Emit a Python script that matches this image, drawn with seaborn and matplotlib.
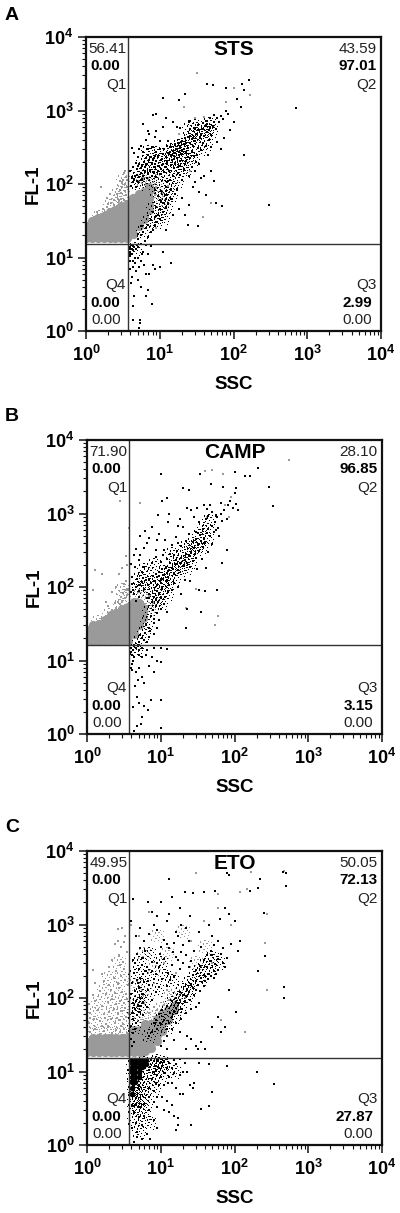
import matplotlib
matplotlib.use("Agg")
import matplotlib.pyplot as plt
from matplotlib.path import Path
import seaborn as sns

sns.set_style("ticks")
plt.rcParams['font.family'] = ['Liberation Sans', 'DejaVu Sans']
plt.rcParams['mathtext.fontset'] = 'custom'
plt.rcParams['mathtext.bf'] = 'Liberation Sans:bold'
plt.rcParams['mathtext.rm'] = 'Liberation Sans:bold'

GRAY = '#9a9a9a'
INK = '#111111'

# panel letters, titles, gates
panel_letters = ['A', 'B', 'C']
panel_titles = ['STS', 'CAMP', 'ETO']
gate_x = [3.7, 3.7, 3.7]
gate_y = [15.4, 16.0, 15.4]
# Q1 top, Q1 mid, Q2 top, Q2 mid, Q4 mid, Q4 low, Q3 mid, Q3 low
a_stats = ['56.41', '0.00', '43.59', '97.01', '0.00', '0.00', '2.99', '0.00']
b_stats = ['71.90', '0.00', '28.10', '96.85', '0.00', '0.00', '3.15', '0.00']
c_stats = ['49.95', '0.00', '50.05', '72.13', '0.00', '0.00', '27.87', '0.00']
tick_values = [1, 10, 100, 1000, 10000]
tick_labels = [r'$\mathbf{10^{0}}$', r'$\mathbf{10^{1}}$', r'$\mathbf{10^{2}}$',
               r'$\mathbf{10^{3}}$', r'$\mathbf{10^{4}}$']

# solid part of the grey population
a_core = [(1,18.5),(1,22),(1,27),(1.2,18.5),(1.2,22),(1.2,27),(1.2,31),(1.45,18.5),(1.45,22),(1.45,26),(1.45,31),(1.45,34),
          (1.75,18.5),(1.75,22),(1.75,26),(1.75,31),(1.75,37),(2.1,18.5),(2.1,22),(2.1,26),(2.1,31),(2.1,37),(2.1,41),
          (2.5,18.5),(2.5,22),(2.5,26),(2.5,31),(2.5,37),(2.5,44),(3,18.5),(3,22),(3,26),(3,31),(3,37),(3,44),(3,50),
          (3.6,18.5),(3.6,22),(3.6,26),(3.6,31),(3.6,37),(3.6,45),(3.6,54),(4.4,21),(4.4,26),(4.4,31),(4.4,37),(4.4,45),
          (4.4,54),(4.4,65),(5.2,27),(5.2,31),(5.2,37),(5.2,45),(5.2,54),(5.2,65),(5.2,74),(6.2,33),(6.2,38),(6.2,45),
          (6.2,54),(6.2,65),(6.2,78),(7.2,44),(7.2,52),(7.2,64),(7.2,80),(7.2,92)]
b_core = [(1,18.5),(1,22),(1,26),(1.2,18.5),(1.2,22),(1.2,26),(1.2,30),(1.45,18.5),(1.45,22),(1.45,26),(1.45,31),
          (1.75,18.5),(1.75,22),(1.75,26),(1.75,31),(1.75,36),(2.1,18.5),(2.1,22),(2.1,26),(2.1,31),(2.1,37),(2.1,41),
          (2.5,18.5),(2.5,22),(2.5,26),(2.5,31),(2.5,37),(2.5,44),(3,18.5),(3,22),(3,26),(3,31),(3,37),(3,44),(3,50),
          (3.6,18.5),(3.6,22),(3.6,26),(3.6,31),(3.6,37),(3.6,45),(3.6,54),(4.3,23),(4.3,27),(4.3,32),(4.3,38),(4.3,45),
          (4.3,54),(4.3,62),(5,30),(5,36),(5,44),(5,52),(5,60),(5.8,38),(5.8,45),(5.8,52)]
c_core = [(1,18.5),(1,21),(1,25),(1.2,18.5),(1.2,21),(1.2,25),(1.2,29),(1.45,18.5),(1.45,21),(1.45,25),(1.45,29),(1.75,18.5),(1.75,21),
          (1.75,25),(1.75,29),(2.1,18.5),(2.1,21),(2.1,25),(2.1,29),(2.5,18.5),(2.5,21),(2.5,25),(2.5,29),(3,18.5),(3,21),(3,25),(3,29),
          (3.6,18.5),(3.6,21),(3.6,25),(3.6,29),(4.4,18.5),(4.4,22),(4.4,26),(4.4,31),(4.4,37),(5.2,18.5),(5.2,22),(5.2,26),
          (5.2,31),(5.2,37),(6.2,19),(6.2,23),(6.2,27),(6.2,32),(6.2,38),(6.2,44),(7.4,21),(7.4,26),(7.4,31),(7.4,37),
          (7.4,44),(8.8,26),(8.8,31),(8.8,37),(8.8,44),(8.8,52),(10.5,36),(10.5,44),(10.5,52),(10.5,60),(12.5,50),(12.5,58),
          (12.5,68),(15,68),(15,78)]

# loose grey dots at the fringes
a_gray = [(1.3,36),(1.5,38),(1.8,42),(1.9,48),(2.2,46),(2.4,52),(2.6,50),(2.8,58),(3,62),(3.3,60),(3.5,70),(2.6,72),
          (2.9,84),(3.1,92),(3.4,100),(3.2,115),(3.5,125),(3.3,140),(2.9,110),(2.7,62),(2.2,56),(1.6,92),(1.9,64),
          (2.1,72),(1.2,35),(1.4,41),(3.4,80),(3,76),(3.6,90),(2.4,60),(1.7,46),(2,53),(3.6,112),(3.4,150),(3.1,105),
          (5,110),(6,125),(7,118),(8,105),(9,90),(11,75),(12,62),(13,95),(6.5,100),(8.5,70),(32,3200),(40,820),(80,1300),
          (100,2000),(170,1650),(30,800),(21,1100),(18,480),(26,150),(50,55),(38,36),(9,25)]
b_gray = [(1.2,32),(1.4,35),(1.6,38),(1.8,40),(2,44),(2.2,48),(2.5,52),(2.8,58),(3,64),(3.3,70),(3.5,78),(2.6,62),
          (3.1,82),(3.4,90),(3.6,95),(2.2,85),(2.5,100),(3,180),(3.4,260),(2.7,150),(1.3,170),(1.6,150),(1.2,90),(1.9,55),
          (2.4,60),(3.4,120),(3.2,110),(2.9,72),(3.7,640),(2.8,1500),(5.2,1400),(1.8,62),(3.5,200),(5,85),(6,90),(7,75),(8,60),
          (60,40),(55,30),(40,3800),(50,3900),(70,3400),(90,1700),(75,1300),(85,900),(42,900),(540,5400),(22,52),(30,95)]
c_gray = [(1.1,34),(1.3,38),(1.5,32),(1.7,36),(1.9,40),(2.2,33),(2.5,37),(2.8,35),(3.2,38),(3.5,33),(1.05,46),(1.25,52),
          (1.5,48),(1.8,44),(2.1,52),(2.4,46),(2.7,50),(3.1,44),(3.4,55),(1.1,62),(1.4,68),(1.7,60),(2,64),(2.3,70),
          (2.6,62),(3,66),(3.3,72),(3.6,62),(1.05,82),(1.3,90),(1.6,78),(1.9,88),(2.2,96),(2.5,84),(2.8,92),(3.2,86),(3.5,98),
          (1.2,110),(1.5,125),(1.8,115),(2.1,130),(2.4,118),(2.7,135),(3,122),(3.4,112),(1.3,160),(1.7,170),(2,150),(2.3,190),
          (2.6,160),(2.9,200),(3.3,175),(3.6,150),(1.2,240),(1.6,210),(2,260),(2.5,230),(2.8,280),(3.2,250),(2.2,330),(2.7,380),
          (3.1,310),(3.5,420),(2.4,550),(2.6,600),(2.9,500),(3.2,580),(3,900),(2.6,880),(3.3,700),(1.2,30),(1.6,41),(2,31),(2.4,30),
          (2.9,42),(3.3,31),(5,70),(6,85),(7,62),(8,75),(9,68),(11,80),(13,95),(16,92),(18,110),(21,100),(5.5,130),(8,160),
          (12,130),(7,240),(11,300),(16,220),(26,600),(38,1100),(60,1700),(90,1000),(120,2800),(140,35),(65,50),(280,130),
          (260,560),(280,1400),(150,3000),(30,5000),(60,2600),(170,5200),(470,5300),(50,300),(4,1000),(5,700),(7,1500)]

# centres of the crowded grey areas, drawn with the stipple marker
a_gray_dense = [(1.5,36),(2.1,50),(2.8,60),(3.2,80),(3.2,110),(2.6,70),(7,100),(9,70),(11,55),(9,110),(6,110)]
b_gray_dense = [(1.4,33),(2,42),(2.8,55),(3.2,75),(3,90),(5,75),(6.5,65),(7,50)]
c_gray_dense = [(1.3,33),(2,33),(3,33),(1.3,45),(2,45),(3,45),(1.3,60),(2.1,60),(3,60),(1.4,85),(2.2,85),(3.1,85),(1.7,125),
                (2.6,125),(2,190),(3,190),(2.7,300),(6,55),(8,60),(10,70),(13,100),(5,45),(16,110),(20,130),(5,90),(7,120),
                (4.5,150),(8,250),(6,400),(12,400),(9,700),(20,800),(30,300),(40,500)]

a_black = [(4,13),(4.2,11),(3.9,12),(4.5,14),(4.1,15),(4.4,12.5),(5,14),(5.5,15.5),(6.5,15),(7.5,14.5),(4.3,9),(4.6,8.5),
           (4,7),(4.2,5.5),(4.8,6.5),(5.5,9),(6,12),(7,11),(8,8),(8.5,7),(10,7.5),(14,8.5),(11,12),(6.5,6),(5,5),(5.5,4),
           (6.5,3),(7,3.6),(4.3,2.2),(7.8,2.3),(4.4,1.4),(5.4,1.4),(5.4,1.3),(5.2,1.1),(4.5,3),(4.1,4.5),(5,10),(4.6,10),
           (4,10.5),(5.8,11),(4.2,13),(4.7,13),(3.9,14),(4.3,14.5),(3.9,11),(4,9),(4.4,7.5),(5.2,7.5),(6.2,8),(7.2,6),
           (5,18),(5.5,20),(6,22),(5,21),(6.3,17),(7,19),(7.5,22),(8,24),(6.5,25),(5.6,27),(7,28),(8.5,27),(9,30),(7.5,32),
           (10,33),(9.5,38),(8.5,36),(11,41),(10,45),(12,48),(9,48),(8,42),(13,53),(11,56),(10,60),(14,62),(9.5,68),(12,70),
           (16,72),(18,46),(15,38),(12,24),(24,28),(33,27),(22,38),(25,52),(20,65),(17,85),(14,82),(12,90),(10.5,80),(8.5,84),
           (4.1,95),(4.3,105),(4.5,115),(4.2,120),(4.6,130),(5,105),(5.2,125),(5.5,140),(4.8,92),(5.8,112),(6,130),(6.3,150),
           (6.7,120),(7,140),(7.4,155),(7.8,130),(8.2,145),(8.6,170),(9,125),(9.4,150),(9.8,175),(10,135),(10.5,160),(11,190),
           (11.5,145),(12,170),(12.5,200),(13,110),(13.5,150),(14,180),(14.5,210),(15,130),(15.5,165),(16,195),(17,225),(17.5,140),
           (18,175),(19,205),(20,115),(21,155),(22,190),(24,230),(25,130),(27,170),(4,150),(4.4,170),(4.9,160),(5.3,185),(5.7,175),
           (6.1,200),(6.6,180),(7.2,210),(7.8,190),(8.4,225),(9,205),(9.6,240),(10.4,215),(11,255),(12,235),(13,265),(14,245),(15,285),
           (16,260),(17,300),(18,275),(19,325),(20,290),(22,345),(23,265),(24,310),(26,365),(27,280),(28,330),(30,390),(32,245),(33,310),
           (35,420),(36,290),(38,360),(40,450),(42,330),(44,510),(46,400),(48,590),(50,470),(28,420),(31,480),(33,540),(36,470),(38,560),
           (41,610),(44,660),(47,540),(52,620),(55,700),(58,560),(60,780),(64,690),(68,850),(72,760),(78,1000),(85,900),(55,880),(48,790),
           (42,720),(38,680),(33,640),(30,560),(26,450),(22,420),(20,380),(18,360),(16,340),(14,320),(13,390),(10,300),(9,270),(8,320),
           (7,250),(6,270),(5,230),(5.5,330),(6.5,400),(7,530),(8,860),(9,900),(6,650),(7.2,480),(11,1500),(18,1400),(22,1700),(44,2300),
           (52,2200),(80,2000),(110,1450),(140,1900),(160,2600),(130,2300),(125,1100),(100,700),(90,550),(75,420),(68,300),(60,370),(50,320),
           (45,250),(50,150),(55,110),(40,130),(30,105),(28,90),(34,78),(42,70),(36,120),(710,1070),(300,52),(140,250),(70,50),(58,55),
           (12,800),(15,700),(11,600),(9,520),(25,720),(17,600),(4.5,260),(5.2,300),(4.2,310),(8.5,430),(19,570),(4.8,195),(6.9,300),(10,380),
           (11.5,300),(12.5,325),(15.5,240),(18,245),(20,255),(21,300),(23,205),(26,225),(29,240),(31,200),(34,190),(30,150)]
b_black = [(4,15),(4.2,14),(4.4,16),(3.9,13),(4.1,12),(4.6,15),(5,14),(5.5,15),(6.5,14),(8,15),(10,15),(12,14.5),(4.2,10),(4.1,9),
           (4.3,11),(5,12),(5.6,11),(6.4,12),(7.5,11),(9,10),(10,9.5),(7,8.5),(8,7),(5,8),(4.6,7),(4.9,5.5),(5.6,6),(6,5),(4.5,4.5),(4.7,3.2),
           (7.3,2.9),(10,2.9),(5,2.6),(6.8,2.1),(4.2,2.3),(6,2.4),(5.5,1.7),(4.7,1.3),(4.3,1.1),(10,1.2),(5.4,1.35),(4,8),(4.1,7.5),
           (5,18),(5.5,20),(6,19),(6.5,18),(7,21),(5.2,22),(6.2,24),(7.2,25),(8,23),(7,28),(6.3,31),(8,32),(9,28),(8.2,37),(9.5,36),(7.4,40),
           (9,44),(7.8,48),(10,50),(8.5,55),(11,58),(9.2,62),(7.6,62),(10,70),(11.5,72),(8.2,72),(12,45),(12.5,85),(9.5,84),(14,90),(7,80),
           (10.5,100),(13,105),(12,120),(15,115),(17,100),(19,80),(23,50),(22,28),(35,45),(58,90),(40,88),(33,92),(25,120),(21,125),
           (4,85),(4.2,92),(4.4,80),(4.6,100),(4.1,110),(5,88),(5.3,105),(5.6,118),(6,95),(6.3,125),(6.7,108),(7,130),(7.4,115),(7.8,140),
           (8.2,122),(8.6,150),(9,135),(9.5,160),(10,125),(10.5,175),(11,145),(11.6,190),(12,155),(12.5,135),(13,170),(13.5,210),(14,180),(15,150),
           (15.5,205),(16,235),(17,170),(18,215),(19,250),(20,195),(21,230),(22,280),(23,210),(24,260),(26,300),(27,225),(28,340),(29,280),
           (30,250),(32,380),(33,310),(35,420),(37,350),(38,470),(40,400),(42,540),(30,450),(34,510),(44,620),(46,500),(50,680),(52,560),
           (55,770),(58,900),(60,640),(65,1000),(68,780),(72,1100),(78,850),(82,1300),(88,1500),(95,1200),(105,1350),(110,1100),(100,1900),
           (105,2200),(65,1400),(50,1050),(47,1300),(38,1300),(31,1200),(42,1150),(56,960),(23,1200),(26,1100),(28,900),(20,650),(18,850),
           (17,680),(16,480),(13,1000),(12,1600),(10.5,1500),(10,3400),(20,2200),(24,2100),(34,3500),(48,2500),(70,2300),(80,320),(68,210),
           (50,380),(44,300),(36,240),(41,180),(31,175),(25,190),(4.8,130),(5.5,160),(6,190),(5,230),(4.4,270),(4.6,330),(5.3,270),
           (6,340),(6.5,400),(5.2,490),(6.2,570),(7,470),(8.5,320),(9,440),(7.5,650),(9.3,950),(9.5,520),(11,320),(11.5,440),(12.5,770),
           (14,370),(15,270),(16.5,310),(17,400),(19,360),(22,420),(24,520),(27,410),(7.7,210),(8.5,255),(10,220),(10.8,270),(12,240),(13.2,285),
           (4.1,135),(4.5,185),(3.9,205),(8.8,105),(4.6,65),(5,72),(6.5,70),(140,3200),(160,3200),(100,3700),(210,4200),(290,2300),(330,1250),
           (30,560),(37,620),(33,760),(41,830),(44,920),(56,600),(62,490)]
c_black = [(3.9,14),(4.3,14.5),(4.7,14),(5.2,14.5),(5.7,14),(6.2,14.5),(6.8,14),(7.4,14.5),(8,14),(9,14.5),(10,13.5),(11,14),(13,13),
           (8.5,12),(9.5,11),(10.5,12),(12,11),(14,11),(8,10),(9,9),(10,8.5),(11,9.5),(13,8.5),(15,9.5),(18,9),(20,10),(16,12.5),(21,13),
           (23,10),(7.5,8),(8.5,7),(9.5,6.5),(11,6.5),(12.5,7),(14,7),(16,6),(18,5),(20,5),(25,6.5),(27,6),(28,7),(7,6),(8,5.5),(9,4.5),
           (10.5,4.5),(12,4),(14,3.5),(7,4.5),(8,3.8),(9,3.3),(11,3),(13,2.8),(15,2.5),(17,2.3),(17,1.9),(16,1.6),(26,1.9),(35,3.1),(45,3.4),
           (50,5.2),(33,13),(45,12.5),(80,12),(200,10),(340,6.8),(7,3),(6,2.5),(8,2.2),(9,1.7),(5.5,1.9),(6.5,1.4),(7.2,1.2),(4.3,1.1),(4.7,1.3),
           (4.1,1.7),(4.6,2),(5,2.4),(4.4,2.8),(5.2,3.3),(6,3.6),(4.2,3.4),(4.8,1.5),(5.6,1.2),(9.2,14),(10.2,15),(12,15),(15,14.5),(18,15),
           (4.1,22),(4.4,25),(3.9,28),(4.2,33),(4.5,38),(4,42),(4.6,46),(4.2,52),(4.8,58),(4.1,62),(4.5,70),(5,78),(4.2,85),(4.6,92),(5.2,100),
           (4,112),(4.5,125),(5,140),(5.5,115),(4.1,160),(4.7,175),(5.3,190),(6,165),(4.4,220),(5,250),(5.6,280),(6.3,230),(4.2,330),(4.8,400),
           (5.5,350),(6.2,440),(4,1100),(4.6,700),(5.2,900),(6,600),(7,750),(8,1000),(7.5,1500),(4.2,2200),(6.8,2000),(9,1300),(10,2000),(13,4200),
           (13,1400),(14,2400),(12,1100),(16,800),(18,1700),(21,2800),(19,1000),(9,850),(10,500),(11,620),(13,480),(15,560),(17,700),(19,420),
           (22,900),(25,1300),(27,2700),(33,800),(38,2800),(45,1000),(55,2900),(50,700),(64,1200),(75,1700),(85,1400),(100,1100),(120,600),
           (110,440),(90,550),(70,480),(60,600),(52,520),(48,430),(42,380),(35,500),(28,430),(24,600),(20,520),(6.5,260),(7.5,310),(8.5,210),
           (9.5,260),(11,340),(12.5,220),(14,280),(16,360),(18,250),(20,300),(22,380),(24,260),(26,320),(30,240),(34,270),(38,330),(42,260),
           (46,320),(50,380),(55,290),(60,340),(65,400),(70,300),(75,260),(80,350),(60,240),(52,230),(45,210),(40,200),(35,190),(30,170),
           (26,150),(23,130),(20,110),(18,120),(16,100),(14,90),(12,78),(10.5,68),(9.5,60),(8.5,50),(8,45),(7.5,35),(7,30),(9,38),(10,44),(11,50),
           (12,38),(13,46),(14,55),(15,64),(16,72),(17,85),(18,95),(19,70),(21,88),(22,105),(24,120),(25,95),(27,135),(28,110),(30,130),(32,150),
           (34,125),(36,165),(38,145),(40,170),(44,180),(48,200),(52,190),(56,210),(33,85),(30,75),(26,70),(22,62),(19,52),(16,45),(14,38),
           (12,30),(11,26),(10,22),(12,20),(15,27),(18,35),(23,30),(26,28),(30,22),(35,25),(22,20),(32,20),(40,20),(60,55),(50,40),(75,40),(65,35),
           (105,65),(85,130),(260,370),(470,100),(470,140),(210,230),(250,1450),(210,3100),(220,4200),(500,3300),(500,5000),(450,5200),(160,2900),
           (85,4700),(80,5000),(8,180),(7,150),(5.8,58),(6.5,75),(7.5,95),(8.5,120),(9.5,140),(10.5,180),(12,145),(13.5,175),(15,200),(5.2,65),
           (5.8,88),(6.8,130),(4.9,160),(5.7,210),(6.7,170),(7.7,230),(8.8,300),(9.8,400),(12,550),(14.5,420),(17,330),(4.5,300),(5.2,480)]

# centres of the crowded black areas, drawn with the stipple marker
a_dense = [(5,120),(6,150),(7,110),(8.5,130),(8,170),(10,160),(10,210),(12,190),(13,250),(15,210),(16,290),(19,250),(20,340),
           (23,300),(25,400),(28,370),(30,480),(34,430),(38,560),(42,500),(46,650),(9,80),(10,65),(8,45),(7,30),(6,22),(11,100),
           (13,130),(16,150),(20,170),(12,65),(4.6,13),(5,100),(5,145),(6.5,190),(8,210),(14,90),(18,200),(24,230),(10,40),(12,50),
           (14,70),(17,110),(22,150),(28,220),(35,300),(42,350),(18,330),(14,290),(30,620),(25,560),(50,520),(9,30),(11,35),(6,200),
           (9,260),(7,270)]
b_dense = [(5,95),(6,120),(7,100),(8,80),(8,60),(7,45),(6.5,32),(6,24),(5,18),(4.6,14),(9,110),(10,130),(11,160),(13,150),
           (15,190),(17,220),(20,240),(24,300),(27,380),(33,500),(38,620),(30,330),(22,180),(9,70),(10,90),(7,150),(6,170),(5,130),
           (8,200),(14,280),(12,110),(15,130),(18,170),(25,220),(35,350),(42,450),(45,800),(22,350),(10,60),(12,80)]
c_dense = [(7,30),(8.5,38),(10,50),(12,65),(14,85),(17,100),(20,130),(24,160),(28,190),(33,230),(40,280),(50,350),(60,300),
           (12,40),(15,55),(18,75),(22,100),(4.3,40),(4.3,60),(4.5,85),(5,110),(5.5,150),(7,200),(4.5,200),(9,130),(11,200),
           (14,170),(4.2,12),(4.5,9),(5.5,10),(4.4,7),(5,5.5),(7,11),(8.5,13),(6,7),(4.4,4),(5,3),(4.3,2.2),(6.5,4),(8,6),
           (10,9),(9,14),(5,1.5),(11,13),(4.5,5),(6,5),(6,13),(4.2,9),(4.6,11),(4.3,5.5),(5.2,7),(4.3,3.2),(4.8,4),(5.5,4),(7,8),
           (8,9),(10,12),(6,2.5),(7,2),(15,10),(25,130),(35,180),(45,230),(16,70),(5,70),(6,90),(5,300),(7,400),(10,300)]

# the very dense black clump under the gate in panel C
c_clump = [(4.1,14.5),(4.1,13),(4.1,11.5),(4.1,10),(4.1,8.5),(4.1,7.2),(4.1,6),(4.1,5),(4.5,14.5),(4.5,13),(4.5,11.5),(4.5,10),(4.5,8.5),
           (4.5,7.2),(5,14.5),(5,13),(5,11.5),(5,10),(5,8.5),(5.6,14.5),(5.6,13),(5.6,11.5),(6.3,14.5),(6.3,12.5)]

# irregular cloud of small squares, used as a scatter marker
stipple_dots = [(-.5,.1),(-.42,-.3),(-.35,.38),(-.28,-.05),(-.2,-.44),(-.14,.22),(-.08,-.2),(0,.48),(.02,.05),(.09,-.36),
                (.15,.28),(.2,-.1),(.27,.42),(.31,-.46),(.36,.12),(.42,-.24),(.47,.33),(.5,-.02)]


def stipple_marker(d=0.045):
    verts, codes = [], []
    for cx, cy in stipple_dots:
        verts += [(cx - d, cy - d), (cx + d, cy - d), (cx + d, cy + d), (cx - d, cy + d), (cx - d, cy - d)]
        codes += [Path.MOVETO, Path.LINETO, Path.LINETO, Path.LINETO, Path.CLOSEPOLY]
    return Path(verts, codes)


def pts(ax, data, **kw):
    sns.scatterplot(x=[p[0] for p in data], y=[p[1] for p in data], ax=ax, linewidth=0, legend=False, **kw)


def draw_panel(ax, title, gx, gy, stats, core, gray_dense, gray, dense, black, clump=None):
    stip = stipple_marker()
    pts(ax, core, s=44, color=GRAY)
    pts(ax, gray_dense, s=110, color=GRAY, marker=stip)
    pts(ax, gray, s=1.8, color=GRAY, marker='s')
    if clump:
        pts(ax, clump, s=16, color='black')
    pts(ax, dense, s=110, color='black', marker=stip)
    pts(ax, black, s=0.9, color='black', marker='s')

    ax.set_xscale('log')
    ax.set_yscale('log')
    ax.set_xlim(1, 10000)
    ax.set_ylim(1, 10000)
    ax.axvline(gx, color='#333333', lw=1.0)
    ax.axhline(gy, color='#333333', lw=1.0)

    ax.set_xticks(tick_values)
    ax.set_xticklabels(tick_labels, fontsize=13)
    ax.set_yticks(tick_values)
    ax.set_yticklabels(tick_labels, fontsize=13)
    ax.tick_params(which='major', length=6, width=1.1, pad=3, color=INK, labelcolor='black')
    ax.tick_params(axis='x', which='major', pad=4)
    ax.tick_params(which='minor', length=3, width=0.8, color=INK)
    for s in ax.spines.values():
        s.set_linewidth(1.6)
        s.set_color(INK)
    ax.set_xlabel('SSC', fontsize=13.5, fontweight='bold', labelpad=8, color='black')
    ax.set_ylabel('FL-1', fontsize=13.5, fontweight='bold', labelpad=2, color='black')

    tr = ax.transAxes
    kw = dict(transform=tr, ha='right', va='center', fontsize=11, color='#222222')
    ax.text(0.138, 0.96, stats[0], **kw)
    ax.text(0.117, 0.90, stats[1], fontweight='bold', **dict(kw, color='black'))
    ax.text(0.138, 0.838, 'Q1', **kw)
    ax.text(0.986, 0.96, stats[2], **kw)
    ax.text(0.986, 0.90, stats[3], fontweight='bold', **dict(kw, color='black'))
    ax.text(0.986, 0.838, 'Q2', **kw)
    ax.text(0.134, 0.157, 'Q4', **kw)
    ax.text(0.117, 0.094, stats[4], fontweight='bold', **dict(kw, color='black'))
    ax.text(0.117, 0.036, stats[5], **kw)
    ax.text(0.986, 0.157, 'Q3', **kw)
    ax.text(0.97, 0.094, stats[6], fontweight='bold', **dict(kw, color='black'))
    ax.text(0.97, 0.036, stats[7], **kw)
    ax.text(0.5, 0.958, title, transform=tr, ha='center', va='center', fontsize=15, fontweight='bold', color='black')


fig = plt.figure(figsize=(4.0, 12.13), dpi=100)
W, H = 400.0, 1213.0
# left, top, right, bottom in pixels
boxes = [(86, 37, 381, 331), (87, 440, 382, 734), (87, 851, 382, 1145)]
letter_y = [15, 416, 827]
stats = [a_stats, b_stats, c_stats]
cores = [a_core, b_core, c_core]
gray_dense = [a_gray_dense, b_gray_dense, c_gray_dense]
grays = [a_gray, b_gray, c_gray]
dense = [a_dense, b_dense, c_dense]
blacks = [a_black, b_black, c_black]
clumps = [None, None, c_clump]

for i in range(3):
    l, t, r, b = boxes[i]
    ax = fig.add_axes([l / W, 1 - b / H, (r - l) / W, (b - t) / H])
    draw_panel(ax, panel_titles[i], gate_x[i], gate_y[i], stats[i], cores[i], gray_dense[i], grays[i], dense[i], blacks[i], clumps[i])
    fig.text(5 / W, 1 - letter_y[i] / H, panel_letters[i], fontsize=14, fontweight='bold', va='center', color='black')

fig.savefig('out.png', dpi=100)
